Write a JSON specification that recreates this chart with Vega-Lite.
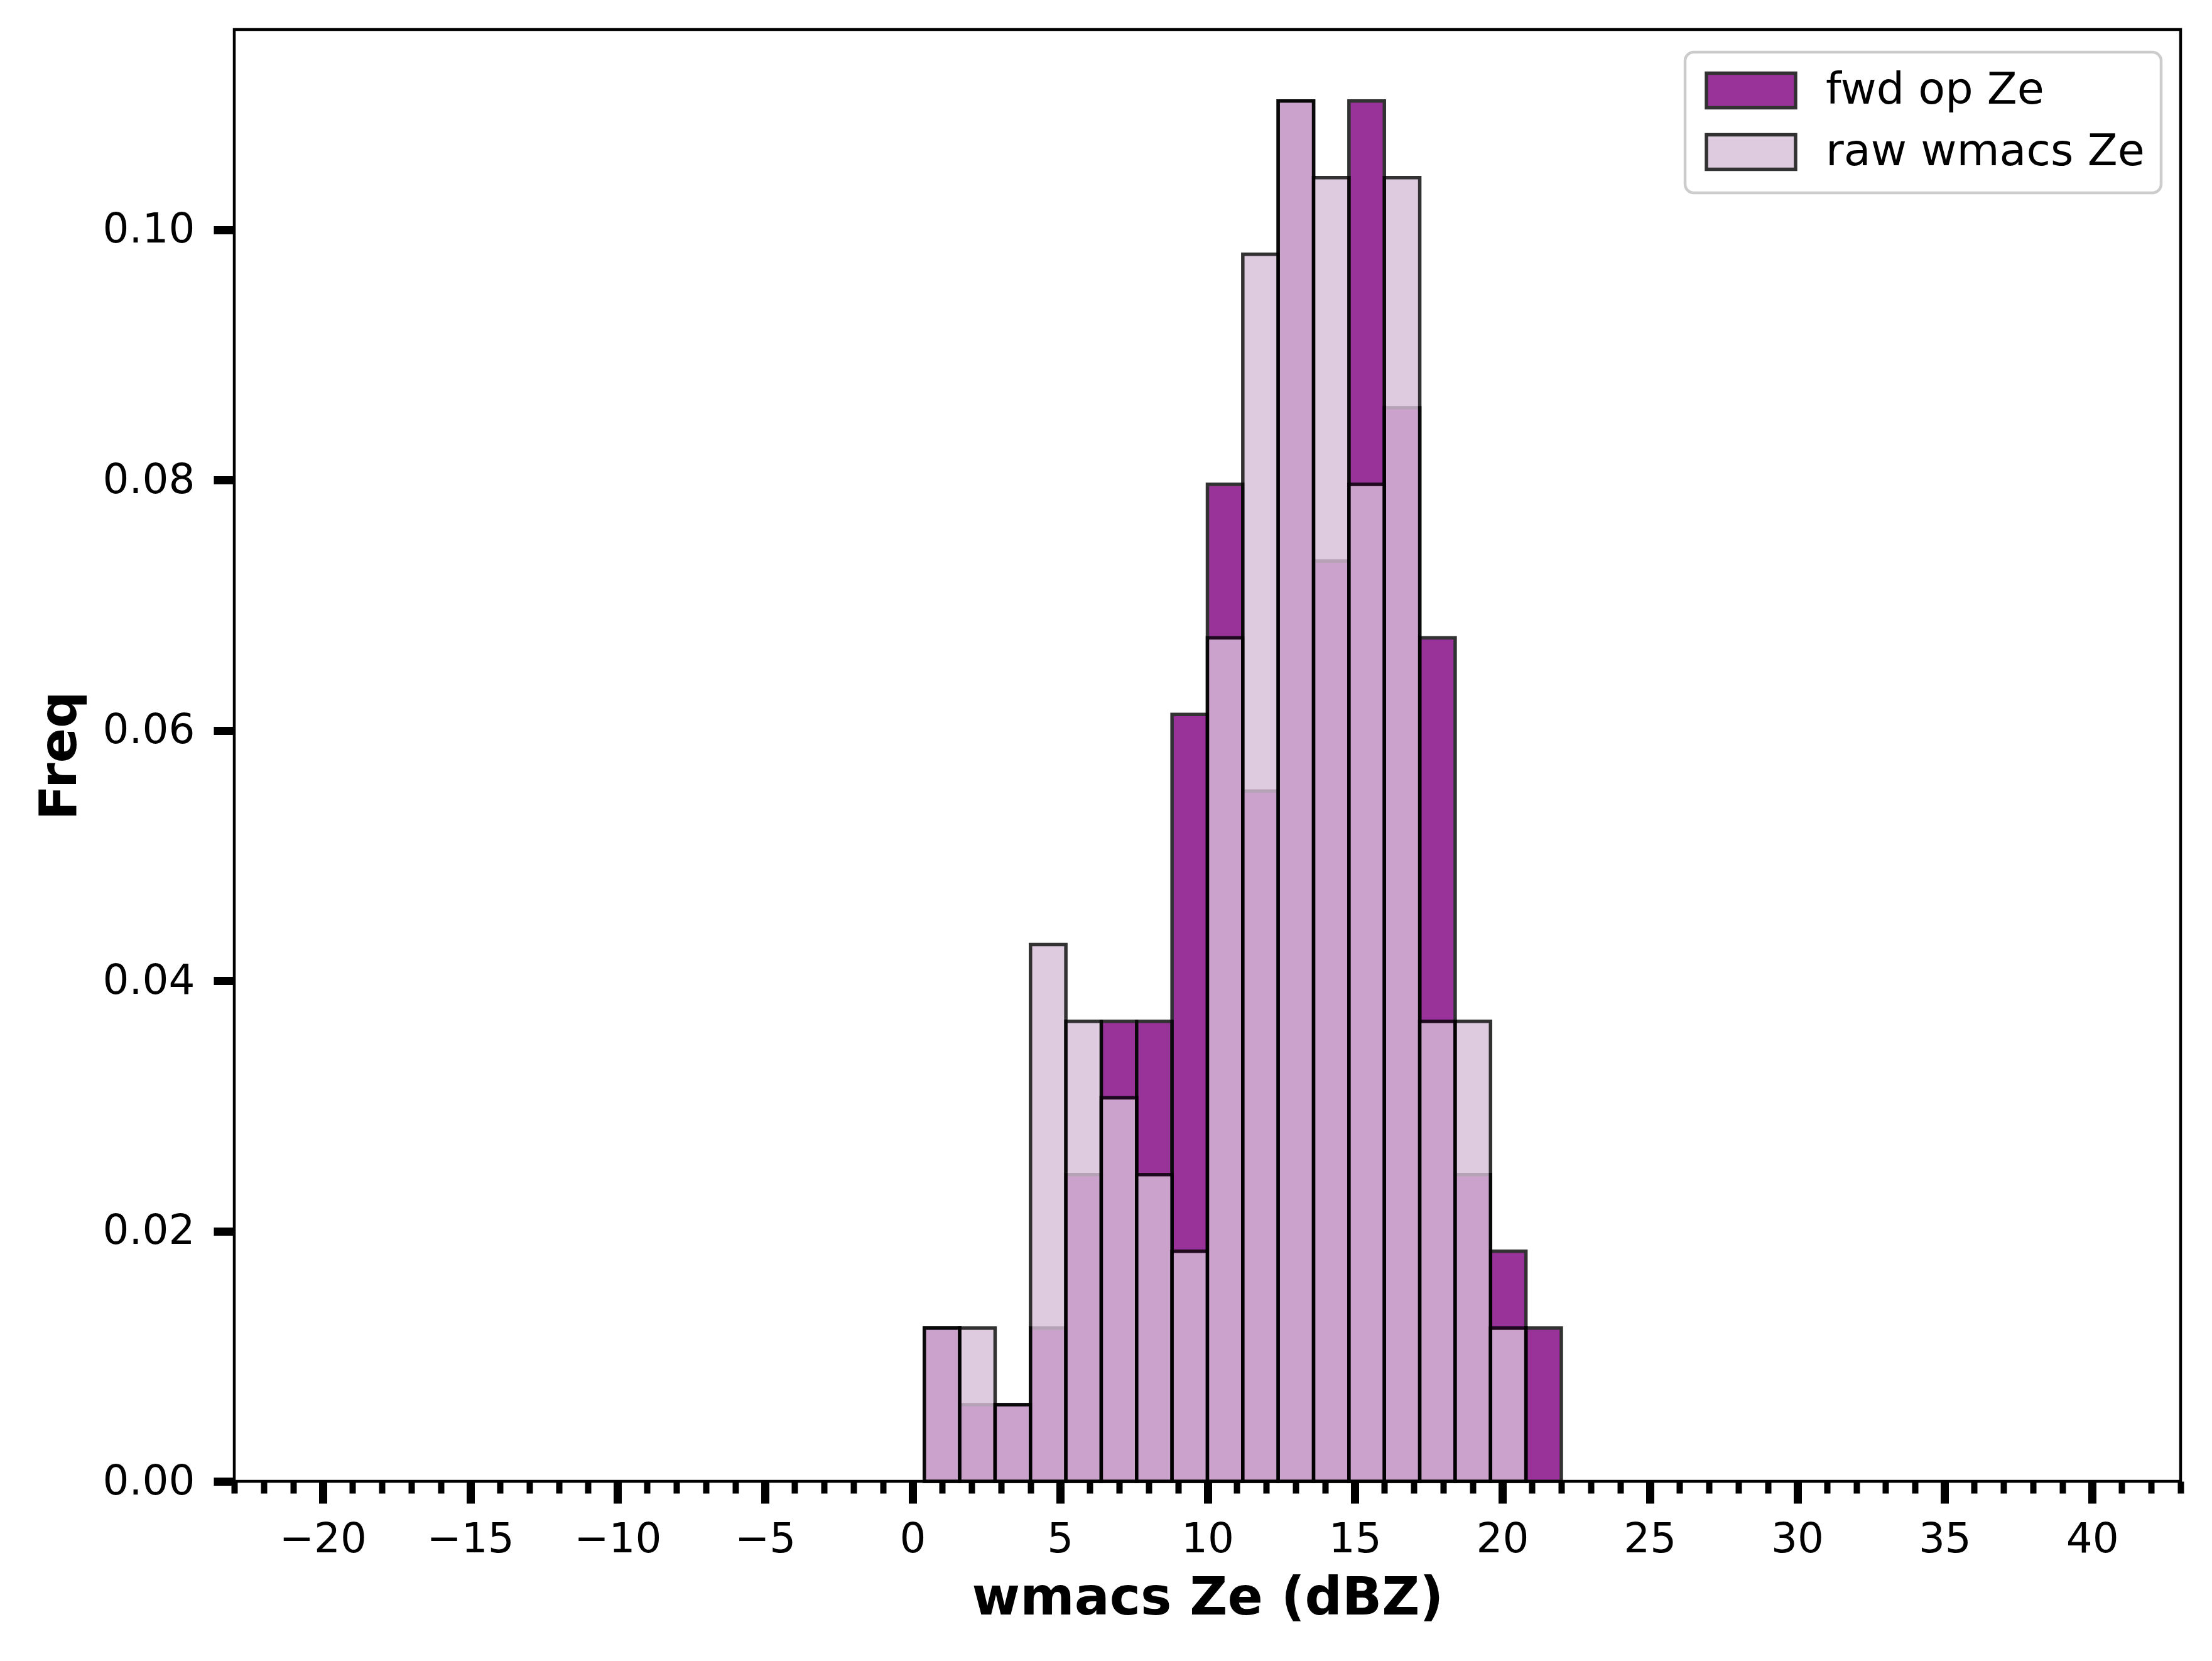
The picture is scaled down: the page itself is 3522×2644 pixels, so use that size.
{
  "$schema": "https://vega.github.io/schema/vega-lite/v6.json",
  "width": 3099,
  "height": 2311,
  "autosize": {"type": "none"},
  "padding": {"left": 373, "top": 47, "right": 50, "bottom": 286},
  "background": "white",
  "config": {
    "font": "DejaVu Sans",
    "view": {"stroke": "black", "strokeWidth": 4.5},
    "legend": {"strokeWidth": 4.5}
  },
  "data": {
    "values": [
      {"series": "fwd op Ze", "lo": 0.4, "hi": 1.6, "freq": 0.01225},
      {"series": "fwd op Ze", "lo": 1.6, "hi": 2.8, "freq": 0.00613},
      {"series": "fwd op Ze", "lo": 2.8, "hi": 4.0, "freq": 0.00613},
      {"series": "fwd op Ze", "lo": 4.0, "hi": 5.2, "freq": 0.01225},
      {"series": "fwd op Ze", "lo": 5.2, "hi": 6.4, "freq": 0.02451},
      {"series": "fwd op Ze", "lo": 6.4, "hi": 7.6, "freq": 0.03676},
      {"series": "fwd op Ze", "lo": 7.6, "hi": 8.8, "freq": 0.03676},
      {"series": "fwd op Ze", "lo": 8.8, "hi": 10.0, "freq": 0.06127},
      {"series": "fwd op Ze", "lo": 10.0, "hi": 11.2, "freq": 0.07966},
      {"series": "fwd op Ze", "lo": 11.2, "hi": 12.4, "freq": 0.05515},
      {"series": "fwd op Ze", "lo": 12.4, "hi": 13.6, "freq": 0.11029},
      {"series": "fwd op Ze", "lo": 13.6, "hi": 14.8, "freq": 0.07353},
      {"series": "fwd op Ze", "lo": 14.8, "hi": 16.0, "freq": 0.11029},
      {"series": "fwd op Ze", "lo": 16.0, "hi": 17.2, "freq": 0.08578},
      {"series": "fwd op Ze", "lo": 17.2, "hi": 18.4, "freq": 0.0674},
      {"series": "fwd op Ze", "lo": 18.4, "hi": 19.6, "freq": 0.02451},
      {"series": "fwd op Ze", "lo": 19.6, "hi": 20.8, "freq": 0.01838},
      {"series": "fwd op Ze", "lo": 20.8, "hi": 22.0, "freq": 0.01225},
      {"series": "raw wmacs Ze", "lo": 0.4, "hi": 1.6, "freq": 0.01225},
      {"series": "raw wmacs Ze", "lo": 1.6, "hi": 2.8, "freq": 0.01225},
      {"series": "raw wmacs Ze", "lo": 2.8, "hi": 4.0, "freq": 0.00613},
      {"series": "raw wmacs Ze", "lo": 4.0, "hi": 5.2, "freq": 0.04289},
      {"series": "raw wmacs Ze", "lo": 5.2, "hi": 6.4, "freq": 0.03676},
      {"series": "raw wmacs Ze", "lo": 6.4, "hi": 7.6, "freq": 0.03064},
      {"series": "raw wmacs Ze", "lo": 7.6, "hi": 8.8, "freq": 0.02451},
      {"series": "raw wmacs Ze", "lo": 8.8, "hi": 10.0, "freq": 0.01838},
      {"series": "raw wmacs Ze", "lo": 10.0, "hi": 11.2, "freq": 0.0674},
      {"series": "raw wmacs Ze", "lo": 11.2, "hi": 12.4, "freq": 0.09804},
      {"series": "raw wmacs Ze", "lo": 12.4, "hi": 13.6, "freq": 0.11029},
      {"series": "raw wmacs Ze", "lo": 13.6, "hi": 14.8, "freq": 0.10417},
      {"series": "raw wmacs Ze", "lo": 14.8, "hi": 16.0, "freq": 0.07966},
      {"series": "raw wmacs Ze", "lo": 16.0, "hi": 17.2, "freq": 0.10417},
      {"series": "raw wmacs Ze", "lo": 17.2, "hi": 18.4, "freq": 0.03676},
      {"series": "raw wmacs Ze", "lo": 18.4, "hi": 19.6, "freq": 0.03676},
      {"series": "raw wmacs Ze", "lo": 19.6, "hi": 20.8, "freq": 0.01225}
    ]
  },
  "mark": {"type": "bar", "opacity": 0.8, "stroke": "black", "strokeWidth": 5.5},
  "encoding": {
    "x": {
      "field": "lo",
      "type": "quantitative",
      "scale": {"domain": [-23, 43], "nice": false, "zero": false},
      "axis": {
        "values": [-23, -22, -21, -20, -19, -18, -17, -16, -15, -14, -13, -12, -11, -10, -9, -8, -7, -6, -5, -4, -3, -2, -1, 0, 1, 2, 3, 4, 5, 6, 7, 8, 9, 10, 11, 12, 13, 14, 15, 16, 17, 18, 19, 20, 21, 22, 23, 24, 25, 26, 27, 28, 29, 30, 31, 32, 33, 34, 35, 36, 37, 38, 39, 40, 41, 42, 43],
        "labelExpr": "datum.value % 5 === 0 ? datum.label : ''",
        "title": "wmacs Ze (dBZ)",
        "titleFontSize": 83,
        "titleFontWeight": "bold",
        "titleColor": "black",
        "titlePadding": 20,
        "labelFontSize": 66,
        "labelColor": "black",
        "labelPadding": 25,
        "labelOverlap": false,
        "labelFlush": false,
        "tickColor": "black",
        "tickSize": {"condition": {"test": "datum.value % 5 === 0", "value": 35}, "value": 19},
        "tickWidth": {"condition": {"test": "datum.value % 5 === 0", "value": 13}, "value": 10},
        "domain": false,
        "grid": false
      }
    },
    "x2": {"field": "hi"},
    "y": {
      "field": "freq",
      "type": "quantitative",
      "stack": null,
      "scale": {"domain": [0, 0.116], "nice": false},
      "axis": {
        "values": [0, 0.02, 0.04, 0.06, 0.08, 0.1],
        "format": ".2f",
        "title": "Freq",
        "titleFontSize": 82,
        "titleFontWeight": "bold",
        "titleColor": "black",
        "titlePadding": 36,
        "labelFontSize": 66,
        "labelColor": "black",
        "labelPadding": 30,
        "tickColor": "black",
        "tickSize": 33,
        "tickWidth": 13,
        "domain": false,
        "grid": false
      }
    },
    "y2": {"datum": 0},
    "color": {
      "field": "series",
      "type": "nominal",
      "scale": {"domain": ["fwd op Ze", "raw wmacs Ze"], "range": ["purple", "thistle"]},
      "legend": {
        "title": null,
        "orient": "none",
        "legendX": 2310,
        "legendY": 36,
        "labelFontSize": 70,
        "labelColor": "black",
        "labelLimit": 2000,
        "labelOffset": 84,
        "symbolType": "M-2.58,-1H2.58V1H-2.58Z",
        "symbolSize": 3025,
        "symbolOffset": 44,
        "symbolStrokeColor": "black",
        "symbolStrokeWidth": 5.5,
        "symbolOpacity": 0.8,
        "rowPadding": 20,
        "padding": 26,
        "strokeColor": "#cccccc",
        "fillColor": "white",
        "cornerRadius": 14
      }
    }
  }
}
